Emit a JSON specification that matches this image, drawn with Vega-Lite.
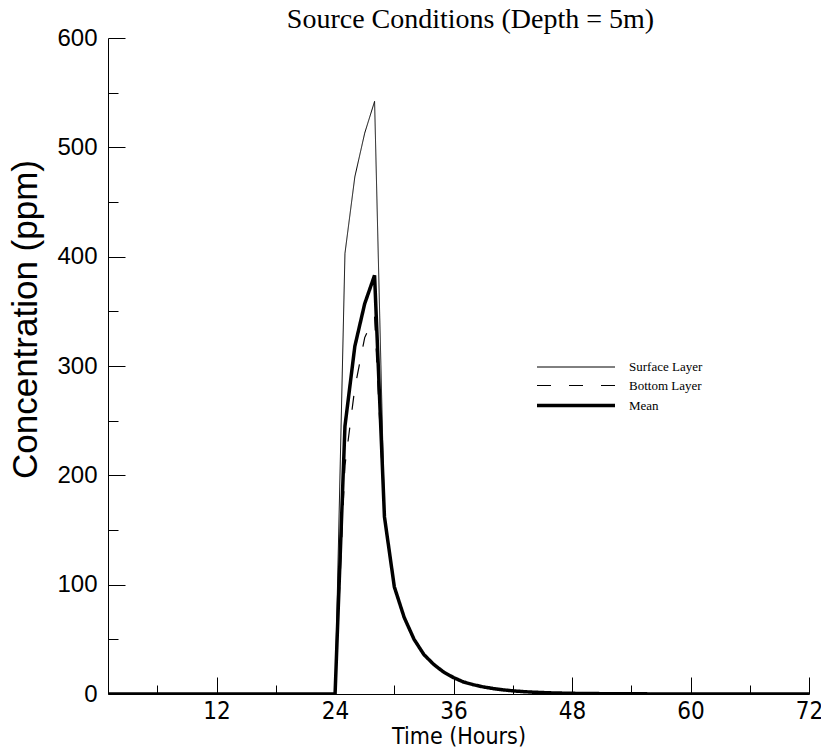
{
  "$schema": "https://vega.github.io/schema/vega-lite/v6.json",
  "width": 701,
  "height": 656,
  "autosize": {"type": "none"},
  "padding": {"left": 108, "top": 38, "right": 12, "bottom": 58},
  "background": "white",
  "title": {
    "text": "Source Conditions (Depth = 5m)",
    "font": "Liberation Serif",
    "fontSize": 28,
    "fontWeight": "normal",
    "color": "black",
    "anchor": "middle",
    "baseline": "bottom",
    "offset": -36,
    "dx": 12
  },
  "config": {
    "view": {"stroke": null},
    "axis": {"grid": false, "domainColor": "black", "tickColor": "black", "labelColor": "black", "titleColor": "black", "domainWidth": 1, "tickWidth": 1}
  },
  "data": {
    "values": [
      {"t": 1, "Surface Layer": 0, "Bottom Layer": 0, "Mean": 0},
      {"t": 24, "Surface Layer": 0, "Bottom Layer": 0, "Mean": 0},
      {"t": 25, "Surface Layer": 403, "Bottom Layer": 209, "Mean": 245},
      {"t": 26, "Surface Layer": 473, "Bottom Layer": 280, "Mean": 318},
      {"t": 27, "Surface Layer": 513, "Bottom Layer": 326, "Mean": 357},
      {"t": 28, "Surface Layer": 542, "Bottom Layer": 345, "Mean": 383},
      {"t": 29, "Surface Layer": 165, "Bottom Layer": 160, "Mean": 162},
      {"t": 30, "Surface Layer": 98, "Bottom Layer": 98, "Mean": 98},
      {"t": 31, "Surface Layer": 70, "Bottom Layer": 70, "Mean": 70},
      {"t": 32, "Surface Layer": 50, "Bottom Layer": 50, "Mean": 50},
      {"t": 33, "Surface Layer": 36, "Bottom Layer": 36, "Mean": 36},
      {"t": 34, "Surface Layer": 27, "Bottom Layer": 27, "Mean": 27},
      {"t": 35, "Surface Layer": 20, "Bottom Layer": 20, "Mean": 20},
      {"t": 36, "Surface Layer": 15, "Bottom Layer": 15, "Mean": 15},
      {"t": 37, "Surface Layer": 11, "Bottom Layer": 11, "Mean": 11},
      {"t": 38, "Surface Layer": 8.5, "Bottom Layer": 8.5, "Mean": 8.5},
      {"t": 39, "Surface Layer": 6.5, "Bottom Layer": 6.5, "Mean": 6.5},
      {"t": 40, "Surface Layer": 5, "Bottom Layer": 5, "Mean": 5},
      {"t": 41, "Surface Layer": 3.8, "Bottom Layer": 3.8, "Mean": 3.8},
      {"t": 42, "Surface Layer": 2.9, "Bottom Layer": 2.9, "Mean": 2.9},
      {"t": 43, "Surface Layer": 2.2, "Bottom Layer": 2.2, "Mean": 2.2},
      {"t": 44, "Surface Layer": 1.7, "Bottom Layer": 1.7, "Mean": 1.7},
      {"t": 45, "Surface Layer": 1.3, "Bottom Layer": 1.3, "Mean": 1.3},
      {"t": 46, "Surface Layer": 1.0, "Bottom Layer": 1.0, "Mean": 1.0},
      {"t": 47, "Surface Layer": 0.8, "Bottom Layer": 0.8, "Mean": 0.8},
      {"t": 48, "Surface Layer": 0.6, "Bottom Layer": 0.6, "Mean": 0.6},
      {"t": 50, "Surface Layer": 0.4, "Bottom Layer": 0.4, "Mean": 0.4},
      {"t": 52, "Surface Layer": 0.25, "Bottom Layer": 0.25, "Mean": 0.25},
      {"t": 56, "Surface Layer": 0.1, "Bottom Layer": 0.1, "Mean": 0.1},
      {"t": 60, "Surface Layer": 0.05, "Bottom Layer": 0.05, "Mean": 0.05},
      {"t": 66, "Surface Layer": 0, "Bottom Layer": 0, "Mean": 0},
      {"t": 72, "Surface Layer": 0, "Bottom Layer": 0, "Mean": 0}
    ]
  },
  "transform": [
    {"fold": ["Surface Layer", "Bottom Layer", "Mean"], "as": ["series", "v"]}
  ],
  "mark": {"type": "line", "color": "black", "clip": true},
  "encoding": {
    "x": {
      "field": "t",
      "type": "quantitative",
      "scale": {"domain": [1, 72], "nice": false, "zero": false},
      "axis": {
        "title": "Time (Hours)",
        "values": [6, 12, 18, 24, 30, 36, 42, 48, 54, 60, 66, 72],
        "labelExpr": "datum.value % 12 === 0 ? datum.label : ''",
        "tickSize": {"condition": {"test": "datum.value % 12 === 0", "value": -17}, "value": -9},
        "labelPadding": 22,
        "labelFlush": false,
        "labelFont": "Liberation Sans Narrow, DejaVu Sans Condensed, sans-serif",
        "labelFontSize": 24,
        "titleFont": "Liberation Sans Narrow, DejaVu Sans Condensed, sans-serif",
        "titleFontSize": 23,
        "titleFontWeight": "normal",
        "titleY": 42,
        "titleBaseline": "middle"
      }
    },
    "y": {
      "field": "v",
      "type": "quantitative",
      "scale": {"domain": [0, 600], "nice": false},
      "axis": {
        "title": "Concentration (ppm)",
        "values": [0, 50, 100, 150, 200, 250, 300, 350, 400, 450, 500, 550, 600],
        "labelExpr": "datum.value % 100 === 0 ? datum.label : ''",
        "tickSize": {"condition": {"test": "datum.value % 100 === 0", "value": -17}, "value": -10},
        "labelPadding": 28,
        "labelFlush": false,
        "labelFont": "Liberation Sans",
        "labelFontSize": 24,
        "titleFont": "Liberation Sans",
        "titleFontSize": 35,
        "titleFontWeight": "normal",
        "titleX": -83,
        "titleY": 281,
        "titleAlign": "center",
        "titleBaseline": "middle"
      }
    },
    "strokeDash": {
      "field": "series",
      "type": "nominal",
      "scale": {"domain": ["Surface Layer", "Bottom Layer", "Mean"], "range": [[1, 0], [14, 18], [1, 0]]},
      "legend": {
        "title": null,
        "orient": "none",
        "legendX": 492,
        "legendY": 322,
        "symbolType": "M-11,0H1",
        "symbolSize": 169,
        "symbolStrokeColor": "black",
        "labelFont": "Liberation Serif",
        "labelFontSize": 13,
        "labelColor": "black",
        "labelOffset": 12,
        "rowPadding": 4,
        "padding": 0
      }
    },
    "strokeWidth": {
      "field": "series",
      "type": "nominal",
      "scale": {"type": "ordinal", "domain": ["Surface Layer", "Bottom Layer", "Mean"], "range": [1, 1.2, 3.5]}
    },
    "order": {"field": "t", "type": "quantitative"}
  }
}
